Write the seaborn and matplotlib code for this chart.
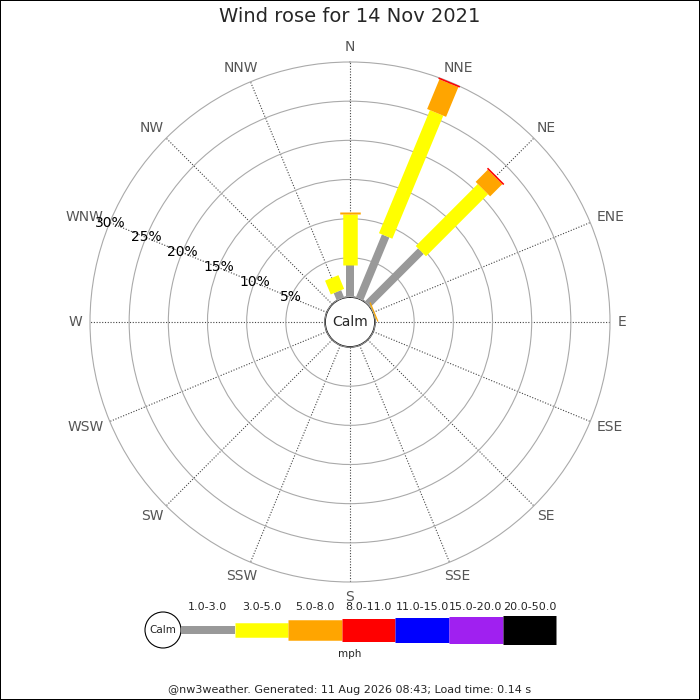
# Wind rose for 14 Nov 2021
import numpy as np
import seaborn as sns
import matplotlib.pyplot as plt
from matplotlib.patches import Circle, Rectangle

# Datos (porcentaje del tiempo por dirección y clase de velocidad)
direcciones = ['N', 'NNE', 'NE', 'ENE', 'E', 'ESE', 'SE', 'SSE',
               'S', 'SSW', 'SW', 'WSW', 'W', 'WNW', 'NW', 'NNW']
clases = ['1.0-3.0', '3.0-5.0', '5.0-8.0', '8.0-11.0', '11.0-15.0', '15.0-20.0', '20.0-50.0']
v_1_3 = [4.1, 8.7, 9.6, 0.0, 0, 0, 0, 0, 0, 0, 0, 0, 0, 0, 0, 1.0]
v_3_5 = [6.5, 17.0, 11.2, 0.05, 0, 0, 0, 0, 0, 0, 0, 0, 0, 0, 0, 1.9]
v_5_8 = [0.2, 4.1, 2.2, 0.15, 0, 0, 0, 0, 0, 0, 0, 0, 0, 0, 0, 0]
v_8_11 = [0, 0.2, 0.2, 0, 0, 0, 0, 0, 0, 0, 0, 0, 0, 0, 0, 0]
v_11_15 = [0] * 16
v_15_20 = [0] * 16
v_20_50 = [0] * 16
anillos = [5, 10, 15, 20, 25, 30]

colores = ['#999999', '#ffff00', '#ffa500', '#ff0000', '#0000ff', '#a020f0', '#000000']
anchos_px = [8, 14.5, 20.5, 23, 25, 27, 29]

sns.set_theme(style='white')
plt.rcParams['font.family'] = ['DejaVu Sans']

fig = plt.figure(figsize=(7, 7), dpi=100)
px = 72 / fig.dpi

r_max = 30
escala = (260 - 25) / r_max          # píxeles por %
r_calma = 25 / escala                # hueco central en unidades de datos

ax = fig.add_axes([90 / 700, (700 - 322 - 260) / 700, 520 / 700, 520 / 700], projection='polar')
ax.set_theta_zero_location('N')
ax.set_theta_direction(-1)
ax.set_ylim(0, r_max)
ax.set_rorigin(-r_calma)

angulos = np.deg2rad(np.arange(16) * 22.5)
ax.set_xticks(angulos)
ax.set_xticklabels([])
ax.set_yticks(anillos[:-1])
ax.set_yticklabels([])
ax.grid(True, axis='y', color='#aaaaaa', linewidth=0.8, linestyle='-')
ax.grid(True, axis='x', color='#444444', linewidth=0.8, linestyle=(0, (1, 1.5)))
ax.spines['polar'].set_color('#aaaaaa')
ax.spines['polar'].set_linewidth(0.8)
ax.spines['inner'].set_visible(False)

# Nombres de las direcciones: la caja del texto toca un círculo exterior
r_etiqueta = (268 - 25) / escala
etiquetas = []
for ang, nombre in zip(angulos, direcciones):
    t = ax.annotate(nombre, xy=(ang, r_etiqueta), xycoords='data', textcoords='offset pixels',
                    xytext=(0, 0), ha='center', va='center', fontsize=10,
                    color='#555555', annotation_clip=False)
    etiquetas.append((ang, t))
fig.canvas.draw()
for ang, t in etiquetas:
    caja = t.get_window_extent()
    t.xyann = (caja.width / 2 * np.sin(ang), caja.height / 2 * np.cos(ang))

# Etiquetas de porcentaje sobre el radio WNW
theta_wnw = np.deg2rad(292.5)
for r in anillos:
    ax.text(theta_wnw, r, f'{r}%', ha='center', va='center', fontsize=10, color='black', zorder=5)

# Barras apiladas
df_series = [v_1_3, v_3_5, v_5_8, v_8_11, v_11_15, v_15_20, v_20_50]
acumulado = np.zeros(16)
for serie, color, ancho in zip(df_series, colores, anchos_px):
    valores = np.array(serie, dtype=float)
    for i in range(16):
        if valores[i] > 0:
            ax.plot([angulos[i], angulos[i]], [acumulado[i], acumulado[i] + valores[i]],
                    color=color, linewidth=ancho * px, solid_capstyle='butt', zorder=4,
                    clip_on=False)
    acumulado += valores

# Círculo de calma
ax.add_patch(Circle((0.5, 0.5), 25 / 520, transform=ax.transAxes, facecolor='white',
                    edgecolor='#bbbbbb', linewidth=0.7, zorder=6))
ax.text(0.5, 0.5, 'Calm', transform=ax.transAxes, ha='center', va='center', fontsize=10, zorder=7)

# Capa en píxeles para título, leyenda y pie
capa = fig.add_axes([0, 0, 1, 1], facecolor='none')
capa.set_xlim(0, 700)
capa.set_ylim(700, 0)
capa.axis('off')

capa.text(350, 17, 'Wind rose for 14 Nov 2021', ha='center', va='center', fontsize=14)

capa.add_patch(Circle((163, 630), 18, facecolor='white', edgecolor='black', linewidth=0.8))
capa.text(163, 630, 'Calm', ha='center', va='center', fontsize=7.5)
x0, paso = 181, 53.6
for i, (clase, color, ancho) in enumerate(zip(clases, colores, anchos_px)):
    xa = x0 + i * paso
    capa.hlines(629.5, xa, xa + paso, color=color, linewidth=ancho * px)
    capa.text(xa + paso / 2, 607, clase, ha='center', va='center', fontsize=8)
capa.text(350, 654, 'mph', ha='center', va='center', fontsize=7.5)

capa.text(350, 690, '@nw3weather. Generated: 11 Aug 2026 08:43; Load time: 0.14 s',
          ha='center', va='center', fontsize=8)

fig.patches.append(Rectangle((0, 0), 1, 1, transform=fig.transFigure, fill=False,
                             edgecolor='black', linewidth=2 * px))

plt.savefig('out.png', dpi=100)
